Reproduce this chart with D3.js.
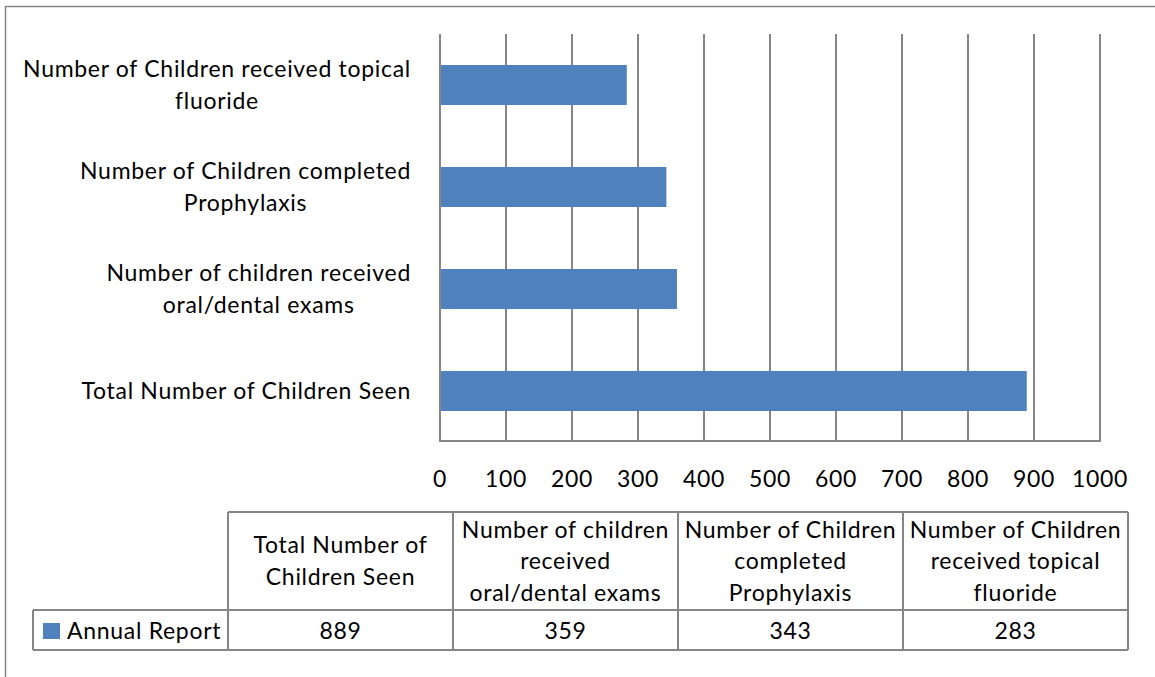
<!DOCTYPE html>
<html>
<head>
<meta charset="utf-8">
<script src="https://cdn.jsdelivr.net/npm/d3@7"></script>
<style>
  body { margin: 0; background: #fff; }
  text { font-family: Lato, "Open Sans", sans-serif; fill: #000; letter-spacing: 0.7px; }
</style>
</head>
<body>
<script>
// data
var categories = ["Total Number of Children Seen", "Number of children received oral/dental exams",
    "Number of Children completed Prophylaxis", "Number of Children received topical fluoride"];
var values = [889, 359, 343, 283];
var seriesName = "Annual Report";
var tickValues = [0, 100, 200, 300, 400, 500, 600, 700, 800, 900, 1000];
// wrapped labels for the axis and the table header
var axisLines = [["Total Number  of Children Seen"], ["Number of children received", "oral/dental exams"],
    ["Number of Children completed", "Prophylaxis"], ["Number of Children received topical", "fluoride"]];
var headerLines = [["Total Number  of", "Children Seen"], ["Number of children", "received", "oral/dental exams"],
    ["Number of Children", "completed", "Prophylaxis"], ["Number of Children", "received topical", "fluoride"]];

var W = 1155, H = 677;
var fs = 23, grey = "#868686", blue = "#4F81BD";

var svg = d3.select("body").append("svg").attr("width", W).attr("height", H);

// chart frame
svg.append("rect")
    .attr("x", 5.5).attr("y", 6.5).attr("width", W + 10).attr("height", H + 10)
    .attr("fill", "none").attr("stroke", grey).attr("stroke-width", 1.5);

var x = d3.scaleLinear().domain([0, 1000]).range([440, 1100]);
var y = d3.scaleBand().domain(categories.slice().reverse()).range([34, 442])
    .paddingInner(0.608).paddingOuter(0.304);

// gridlines
svg.append("g").selectAll("line")
    .data(tickValues.slice(1))
    .enter().append("line")
    .attr("x1", function (d) { return x(d); })
    .attr("x2", function (d) { return x(d); })
    .attr("y1", 34).attr("y2", 441)
    .attr("stroke", grey).attr("stroke-width", 2);

// bars
svg.append("g").selectAll("rect")
    .data(values)
    .enter().append("rect")
    .attr("x", x(0))
    .attr("y", function (d, i) { return y(categories[i]); })
    .attr("width", function (d) { return x(d) - x(0); })
    .attr("height", y.bandwidth())
    .attr("fill", blue);

// axis lines
svg.append("line").attr("x1", x(0)).attr("x2", x(0)).attr("y1", 34).attr("y2", 441)
    .attr("stroke", grey).attr("stroke-width", 2);
svg.append("line").attr("x1", x(0) - 1).attr("x2", x(1000) + 1).attr("y1", 441).attr("y2", 441)
    .attr("stroke", grey).attr("stroke-width", 2);

// tick labels
svg.append("g").selectAll("text")
    .data(tickValues)
    .enter().append("text")
    .attr("x", function (d) { return x(d); })
    .attr("y", 487)
    .attr("text-anchor", "middle")
    .attr("font-size", fs)
    .text(function (d) { return d; });

// category labels: block right aligned at 411, lines centred inside the block
var lh = 32;
svg.append("g").selectAll("text")
    .data(categories)
    .enter().append("text")
    .attr("text-anchor", "middle")
    .attr("font-size", fs)
    .each(function (d, i) {
        var lines = axisLines[i];
        var cy = y(d) + y.bandwidth() / 2;
        var base = cy + 8 - (lines.length - 1) * lh / 2;
        var t = d3.select(this);
        var spans = t.selectAll("tspan")
            .data(lines).enter().append("tspan")
            .attr("y", function (l, j) { return base + j * lh; })
            .text(function (l) { return l; });
        var maxW = d3.max(spans.nodes(), function (n) { return n.getComputedTextLength(); });
        spans.attr("x", 411 - maxW / 2);
    });

// data table
var tx = d3.scaleBand().domain(categories).range([228, 1128]);
var tTop = 512, tMid = 610, tBot = 650, tLeft = 33;
var tg = svg.append("g").attr("stroke", grey).attr("stroke-width", 2);
tg.append("line").attr("x1", 228).attr("x2", 1128).attr("y1", tTop).attr("y2", tTop);
tg.append("line").attr("x1", tLeft).attr("x2", 1128).attr("y1", tMid).attr("y2", tMid);
tg.append("line").attr("x1", tLeft).attr("x2", 1128).attr("y1", tBot).attr("y2", tBot);
tg.append("line").attr("x1", tLeft).attr("x2", tLeft).attr("y1", tMid).attr("y2", tBot);
tg.selectAll("line.col")
    .data(categories)
    .enter().append("line").attr("class", "col")
    .attr("x1", function (d) { return tx(d); })
    .attr("x2", function (d) { return tx(d); })
    .attr("y1", tTop).attr("y2", tBot);
tg.append("line").attr("x1", 1128).attr("x2", 1128).attr("y1", tTop).attr("y2", tBot);

// header texts
svg.append("g").selectAll("text")
    .data(categories)
    .enter().append("text")
    .attr("text-anchor", "middle")
    .attr("font-size", fs)
    .each(function (d, i) {
        var lines = headerLines[i];
        var cx = tx(d) + tx.bandwidth() / 2;
        var base = (tTop + tMid) / 2 + 8 - (lines.length - 1) * 31.5 / 2;
        d3.select(this).selectAll("tspan")
            .data(lines).enter().append("tspan")
            .attr("x", cx)
            .attr("y", function (l, j) { return base + j * 31.5; })
            .text(function (l) { return l; });
    });

// value row
svg.append("g").selectAll("text")
    .data(values)
    .enter().append("text")
    .attr("x", function (d, i) { return tx(categories[i]) + tx.bandwidth() / 2; })
    .attr("y", 639)
    .attr("text-anchor", "middle")
    .attr("font-size", fs)
    .text(function (d) { return d; });

// legend key
svg.append("rect").attr("x", 43).attr("y", 623).attr("width", 17).attr("height", 16).attr("fill", blue);
svg.append("text").attr("x", 67).attr("y", 639).attr("font-size", fs).text(seriesName);
</script>
</body>
</html>
